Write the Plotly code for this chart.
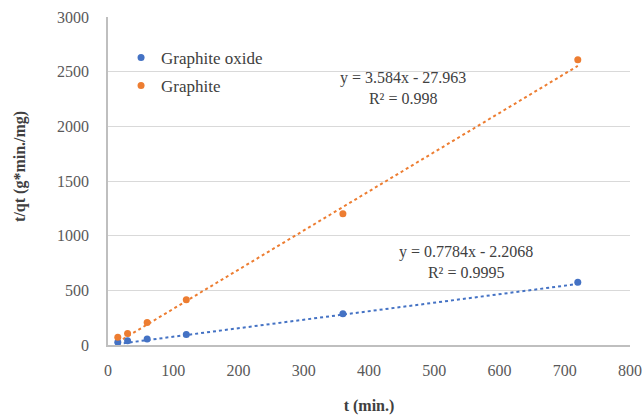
import plotly.graph_objects as go

t_vals = [15, 30, 60, 120, 360, 720]
graphite_oxide = [25, 40, 55, 95, 285, 575]
graphite = [70, 105, 205, 415, 1200, 2610]

go_slope, go_int = 0.7784, -2.2068
g_slope, g_int = 3.584, -27.963

x_ticks = [0, 100, 200, 300, 400, 500, 600, 700, 800]
y_ticks = [0, 500, 1000, 1500, 2000, 2500, 3000]

blue = "#4472C4"
orange = "#ED7D31"
font = "Liberation Serif"

fig = go.Figure()
tx = [min(t_vals), max(t_vals)]
fig.add_trace(go.Scatter(x=tx, y=[go_slope * v + go_int for v in tx], mode="lines",
                         line=dict(color=blue, dash="dot", width=2), showlegend=False, hoverinfo="skip"))
fig.add_trace(go.Scatter(x=tx, y=[g_slope * v + g_int for v in tx], mode="lines",
                         line=dict(color=orange, dash="dot", width=2), showlegend=False, hoverinfo="skip"))
fig.add_trace(go.Scatter(x=t_vals, y=graphite_oxide, mode="markers", name="Graphite oxide",
                         legendgroup="a", marker=dict(color=blue, size=7)))
fig.add_trace(go.Scatter(x=t_vals, y=graphite, mode="markers", name="Graphite",
                         legendgroup="b", marker=dict(color=orange, size=7)))

ann_font = dict(family=font, size=16, color="#404040")
fig.add_annotation(x=0.565, y=0.783, xref="paper", yref="paper", xanchor="center",
                   text="y = 3.584x - 27.963<br>R² = 0.998", showarrow=False,
                   font=ann_font, align="center", yanchor="middle")
fig.add_annotation(x=0.686, y=0.253, xref="paper", yref="paper", xanchor="center",
                   text="y = 0.7784x - 2.2068<br>R² = 0.9995", showarrow=False,
                   font=ann_font, align="center", yanchor="middle")
# y-axis title
fig.add_annotation(x=-0.1686, y=0.546, xref="paper", yref="paper", xanchor="center", yanchor="middle",
                   text="<b>t/qt (g*min./mg)</b>", textangle=-90, showarrow=False,
                   font=dict(family=font, size=16, color="#404040"))

fig.update_layout(
    width=643, height=415,
    margin=dict(l=108, r=13, t=17, b=70, autoexpand=False),
    paper_bgcolor="white", plot_bgcolor="white",
    font=dict(family=font, size=16, color="#595959"),
    legend=dict(x=0.025, y=0.93, xanchor="left", yanchor="top",
                font=dict(family=font, size=17, color="#404040"),
                bgcolor="rgba(0,0,0,0)", itemwidth=30, tracegroupgap=3),
    xaxis=dict(range=[0, 800], tickvals=x_ticks, showgrid=False, zeroline=False,
               showline=True, linecolor="#bfbfbf", linewidth=1.5, ticks="",
               ticklabelstandoff=10, automargin=False,
               tickfont=dict(family=font, size=16, color="#595959"),
               title=dict(text="<b>t (min.)</b>", font=dict(family=font, size=16, color="#404040"), standoff=22)),
    yaxis=dict(range=[0, 3000], tickvals=y_ticks, showgrid=True, gridcolor="#d9d9d9",
               zeroline=False, showline=True, linecolor="#bfbfbf", linewidth=1.5, ticks="",
               ticklabelstandoff=14, automargin=False,
               tickfont=dict(family=font, size=16, color="#595959")),
)

fig.write_html("out.html")
